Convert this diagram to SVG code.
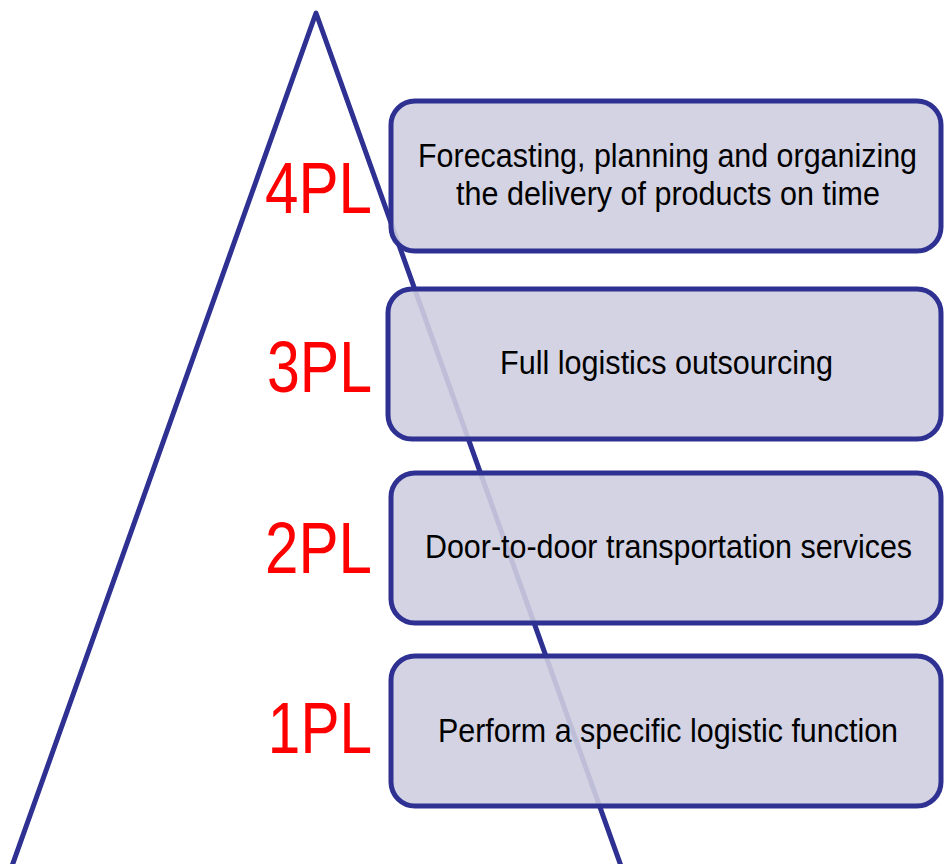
<svg xmlns="http://www.w3.org/2000/svg" width="944" height="864" viewBox="0 0 944 864">
<style>
.tri{fill:none;stroke:#2E3192;stroke-width:5;stroke-linejoin:round}
.box{fill:rgb(206,206,224);fill-opacity:0.9;stroke:#2E3192;stroke-width:5}
.lbl{font-family:"Liberation Sans Narrow","Liberation Sans",Arial,sans-serif;font-size:72px;fill:#FF0000;text-anchor:end}
.txt{font-family:"Liberation Sans Narrow","Liberation Sans",Arial,sans-serif;font-size:34px;fill:#000;text-anchor:middle}
</style>
<rect width="944" height="864" fill="#fff"/>
<g id="pyramid">
<polyline class="tri" points="12,866 316,13 621,866"/>
</g>
<g id="level4">
<text class="lbl" transform="translate(372,213) scale(0.82,1)" textLength="130.5" lengthAdjust="spacingAndGlyphs">4PL</text>
<rect class="box" x="391" y="101" width="550" height="150" rx="24"/>
<text class="txt" transform="translate(667.5,167) scale(0.82,1)" textLength="608.5" lengthAdjust="spacingAndGlyphs">Forecasting, planning and organizing</text>
<text class="txt" transform="translate(668,205) scale(0.82,1)" textLength="517" lengthAdjust="spacingAndGlyphs">the delivery of products on time</text>
</g>
<g id="level3">
<text class="lbl" transform="translate(372,392) scale(0.82,1)" textLength="128" lengthAdjust="spacingAndGlyphs">3PL</text>
<rect class="box" x="388" y="289" width="553" height="150" rx="24"/>
<text class="txt" transform="translate(666.5,374) scale(0.82,1)" textLength="406" lengthAdjust="spacingAndGlyphs">Full logistics outsourcing</text>
</g>
<g id="level2">
<text class="lbl" transform="translate(372,573) scale(0.82,1)" textLength="130.5" lengthAdjust="spacingAndGlyphs">2PL</text>
<rect class="box" x="391" y="473" width="550" height="150" rx="24"/>
<text class="txt" transform="translate(668.5,558) scale(0.82,1)" textLength="594" lengthAdjust="spacingAndGlyphs">Door-to-door transportation services</text>
</g>
<g id="level1">
<text class="lbl" transform="translate(372,753) scale(0.82,1)" textLength="127" lengthAdjust="spacingAndGlyphs">1PL</text>
<rect class="box" x="391" y="656" width="550" height="150" rx="24"/>
<text class="txt" transform="translate(668,742) scale(0.82,1)" textLength="561" lengthAdjust="spacingAndGlyphs">Perform a specific logistic function</text>
</g>
<g id="connectors"/>
</svg>
